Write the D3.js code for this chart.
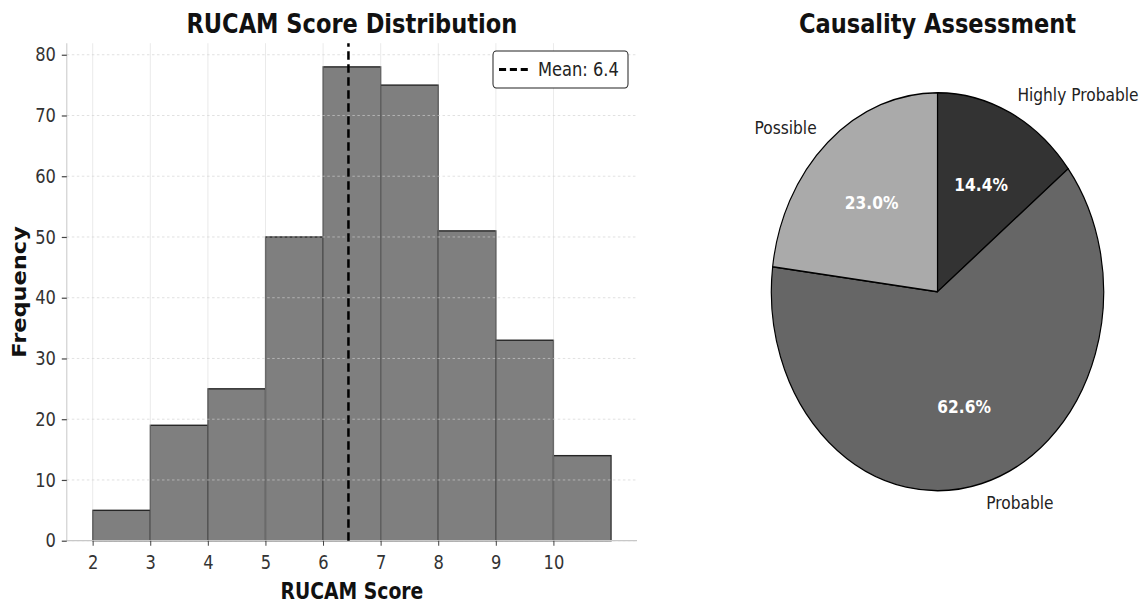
<!DOCTYPE html>
<html>
<head>
<meta charset="utf-8">
<script src="https://cdn.jsdelivr.net/npm/d3@7"></script>
<style>
  html, body { margin: 0; padding: 0; background: #ffffff; }
  svg { display: block; font-family: "DejaVu Sans", sans-serif; }
</style>
</head>
<body>
<svg id="chart" width="1145" height="605"></svg>
<script>
// ---------- data ----------
const binEdges = [2, 3, 4, 5, 6, 7, 8, 9, 10, 11];
const binCounts = [5, 19, 25, 50, 78, 75, 51, 33, 14];
const xTickValues = [2, 3, 4, 5, 6, 7, 8, 9, 10];
const yTickValues = [0, 10, 20, 30, 40, 50, 60, 70, 80];
const meanValue = 6.44;
const meanLabel = "Mean: 6.4";

const pieCategories = ["Highly Probable", "Probable", "Possible"];
const pieShares = [14.4, 62.6, 23.0];
const pieColors = ["#333333", "#666666", "#aaaaaa"];

// ---------- layout ----------
const SX = 0.835; // horizontal squeeze of the original figure
const svg = d3.select("#chart");
svg.append("rect").attr("width", 1145).attr("height", 605).attr("fill", "#ffffff");
const root = svg.append("g").attr("transform", `scale(${SX},1)`);

// ---------- histogram ----------
const x = d3.scaleLinear().domain([1.55, 11.45]).range([66.8 / SX, 637 / SX]);
const y = d3.scaleLinear().domain([0, 81.9]).range([540.7, 43.2]);
const hist = root.append("g");

const bins = binCounts.map((c, i) => ({ x0: binEdges[i], x1: binEdges[i + 1], count: c }));

hist.selectAll("rect.bar").data(bins).join("rect")
  .attr("class", "bar")
  .attr("x", d => x(d.x0))
  .attr("y", d => y(d.count))
  .attr("width", d => x(d.x1) - x(d.x0))
  .attr("height", d => y(0) - y(d.count))
  .attr("fill", "#7f7f7f")
  .attr("stroke", "#262626")
  .attr("stroke-width", 1.4);

// grid (above bars, like matplotlib default)
hist.selectAll("line.vgrid").data(xTickValues).join("line")
  .attr("class", "vgrid")
  .attr("x1", d => x(d)).attr("x2", d => x(d))
  .attr("y1", y(0)).attr("y2", y(81.9))
  .attr("stroke", "#cccccc").attr("stroke-opacity", 0.45).attr("stroke-width", 1);
hist.selectAll("line.hgrid").data(yTickValues).join("line")
  .attr("class", "hgrid")
  .attr("x1", x(1.55)).attr("x2", x(11.45))
  .attr("y1", d => y(d)).attr("y2", d => y(d))
  .attr("stroke", "#d0d0d0").attr("stroke-opacity", 0.7).attr("stroke-width", 1)
  .attr("stroke-dasharray", "3,3");

// spines
hist.append("line").attr("x1", x(1.55)).attr("x2", x(1.55)).attr("y1", y(0)).attr("y2", y(81.9))
  .attr("stroke", "#c8c8c8").attr("stroke-width", 1.2);
hist.append("line").attr("x1", x(1.55)).attr("x2", x(11.45)).attr("y1", y(0)).attr("y2", y(0))
  .attr("stroke", "#c8c8c8").attr("stroke-width", 1.2);

// axes
const yAxis = hist.append("g").attr("transform", `translate(${x(1.55)},0)`)
  .call(d3.axisLeft(y).tickValues(yTickValues).tickSize(6).tickPadding(7));
const xAxis = hist.append("g").attr("transform", `translate(0,${y(0)})`)
  .call(d3.axisBottom(x).tickValues(xTickValues).tickSize(5).tickPadding(9));
[yAxis, xAxis].forEach(a => {
  a.select(".domain").remove();
  a.selectAll(".tick line").attr("stroke", "#444").attr("stroke-width", 1.2);
  a.selectAll(".tick text").attr("fill", "#333").style("font-size", "19.5px")
    .style("font-family", "DejaVu Sans");
});

// mean line
hist.append("line")
  .attr("x1", x(meanValue)).attr("x2", x(meanValue))
  .attr("y1", y(0)).attr("y2", y(81.9))
  .attr("stroke", "#000").attr("stroke-width", 3)
  .attr("stroke-dasharray", "8.5,4.5");

// legend
const lg = hist.append("g");
lg.append("rect").attr("x", 493 / SX).attr("y", 51).attr("width", 135 / SX).attr("height", 37)
  .attr("rx", 4).attr("ry", 4).attr("fill", "#fff").attr("stroke", "#222").attr("stroke-width", 1.2);
lg.append("line").attr("x1", 499 / SX).attr("x2", 529 / SX).attr("y1", 69.5).attr("y2", 69.5)
  .attr("stroke", "#000").attr("stroke-width", 3).attr("stroke-dasharray", "8.5,4.5");
lg.append("text").attr("x", 538 / SX).attr("y", 69.5).attr("dy", "0.35em")
  .attr("fill", "#222").style("font-size", "19.5px").text(meanLabel);

// titles & axis labels
root.append("text").attr("x", x(6.5)).attr("y", 33).attr("text-anchor", "middle")
  .style("font-size", "27px").style("font-weight", "bold").attr("fill", "#111")
  .text("RUCAM Score Distribution");
root.append("text").attr("x", x(6.5)).attr("y", 599).attr("text-anchor", "middle")
  .style("font-size", "22.5px").style("font-weight", "bold").attr("fill", "#111")
  .text("RUCAM Score");
root.append("text")
  .attr("transform", `translate(${26 / SX},${(y(0) + y(81.9)) / 2}) rotate(-90)`)
  .attr("text-anchor", "middle")
  .style("font-size", "22.5px").style("font-weight", "bold").attr("fill", "#111")
  .text("Frequency");

// ---------- pie ----------
const R = 199;
const pg = root.append("g").attr("transform", `translate(${937.5 / SX},291.7)`);
const pie = d3.pie().sort(null).value(d => d.v);
const pieData = pie(pieCategories.map((c, i) => ({ name: c, v: pieShares[i], color: pieColors[i] })));
const arc = d3.arc().innerRadius(0).outerRadius(R);
const pctArc = d3.arc().innerRadius(R * 0.6).outerRadius(R * 0.6);
const lblArc = d3.arc().innerRadius(R * 1.1).outerRadius(R * 1.1);

pg.selectAll("path").data(pieData).join("path")
  .attr("d", arc)
  .attr("fill", d => d.data.color)
  .attr("stroke", "#000").attr("stroke-width", 1.4).attr("stroke-linejoin", "round");

pg.selectAll("text.pct").data(pieData).join("text")
  .attr("class", "pct")
  .attr("x", d => pctArc.centroid(d)[0]).attr("y", d => pctArc.centroid(d)[1])
  .attr("dy", "0.35em").attr("text-anchor", "middle")
  .attr("fill", "#fff").style("font-size", "18.5px").style("font-weight", "bold")
  .text(d => d.data.v.toFixed(1) + "%");

pg.selectAll("text.lbl").data(pieData).join("text")
  .attr("class", "lbl")
  .attr("x", d => lblArc.centroid(d)[0]).attr("y", d => lblArc.centroid(d)[1])
  .attr("dy", "0.35em")
  .attr("text-anchor", d => lblArc.centroid(d)[0] >= 0 ? "start" : "end")
  .attr("fill", "#222").style("font-size", "18.5px")
  .text(d => d.data.name);

root.append("text").attr("x", 937.5 / SX).attr("y", 33).attr("text-anchor", "middle")
  .style("font-size", "27px").style("font-weight", "bold").attr("fill", "#111")
  .text("Causality Assessment");
</script>
</body>
</html>
